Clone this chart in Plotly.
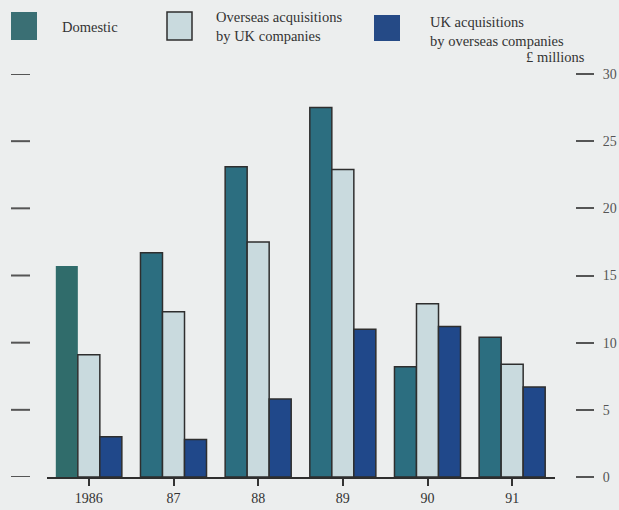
import plotly.graph_objects as go

# Values in £ millions
years = ["1986", "87", "88", "89", "90", "91"]
domestic = [15.7, 16.7, 23.1, 27.5, 8.2, 10.4]
overseas_by_uk = [9.1, 12.3, 17.5, 22.9, 12.9, 8.4]
uk_by_overseas = [3.0, 2.8, 5.8, 11.0, 11.2, 6.7]
y_ticks = [0, 5, 10, 15, 20, 25, 30]

W, H = 619, 510
TOP, BOTTOM = 74, 477          # pixel rows of the 30 and 0 levels
FONT = "Liberation Serif, Times New Roman, serif"
BG = "#ECEEEE"
TEAL = "#2C6E80"
TEAL_SOLID = "#306C6B"
PALE = "#C9DADE"
NAVY = "#20488A"
EDGE = "#2E2E2E"


def px(x):
    return x / W


def py(y):
    return (BOTTOM - y) / (BOTTOM - TOP)


fig = go.Figure()

fig.add_bar(
    x=years, y=domestic, name="Domestic",
    marker=dict(
        color=[TEAL_SOLID] + [TEAL] * (len(years) - 1),
        line=dict(color=EDGE, width=[0] + [1.5] * (len(years) - 1)),
    ),
)
fig.add_bar(
    x=years, y=overseas_by_uk, name="Overseas acquisitions by UK companies",
    marker=dict(color=PALE, line=dict(color=EDGE, width=1.5)),
)
fig.add_bar(
    x=years, y=uk_by_overseas, name="UK acquisitions by overseas companies",
    marker=dict(color=NAVY, line=dict(color=EDGE, width=1.5)),
)

shapes = []
# dashes down the left edge at each value level
for v in y_ticks:
    shapes.append(dict(type="line", xref="paper", yref="y",
                       x0=px(11), x1=px(30), y0=v, y1=v,
                       line=dict(color="#555555", width=2)))

# legend swatches
swatches = [
    (11, 12, 37, 40, "#3A6F74", None),
    (167, 12, 192, 40, PALE, EDGE),
    (374, 15, 400, 41, "#254A86", None),
]
for x0, y0, x1, y1, fill, edge in swatches:
    shapes.append(dict(type="rect", xref="paper", yref="paper",
                       x0=px(x0), x1=px(x1), y0=py(y1), y1=py(y0),
                       fillcolor=fill,
                       line=dict(color=edge or fill, width=1.5 if edge else 0)))

annotations = []
legend_text = [
    ("Domestic", 60, 27, "left"),
    ("Overseas acquisitions<br>by UK companies", 214, 27, "left"),
    ("UK acquisitions<br>by overseas companies", 428, 31, "left"),
    ("£ millions", 587, 57, "right"),
]
for text, x, y, align in legend_text:
    annotations.append(dict(text=text, xref="paper", yref="paper",
                            x=px(x), y=py(y), xanchor=align, yanchor="middle",
                            align="left", showarrow=False,
                            font=dict(family=FONT, size=14.5, color="#333333")))

fig.update_layout(
    width=W, height=H,
    margin=dict(l=0, r=0, t=TOP, b=H - BOTTOM),
    paper_bgcolor=BG, plot_bgcolor=BG,
    barmode="group", bargap=0.22, bargroupgap=0,
    showlegend=False,
    shapes=shapes, annotations=annotations,
    xaxis=dict(
        domain=[px(46.5), px(554.5)],
        type="category", range=[-0.5, 5.5],
        showline=True, linecolor="#2E2E2E", linewidth=1.5,
        ticks="outside", ticklen=7, tickwidth=1.5, tickcolor="#333333",
        tickfont=dict(family=FONT, size=14, color="#333333"),
        showgrid=False, zeroline=False,
    ),
    yaxis=dict(
        range=[0, 30], side="right", anchor="free", position=px(575),
        tickvals=y_ticks, ticks="outside", ticklen=18, tickwidth=2,
        tickcolor="#555555", ticklabelstandoff=6,
        tickfont=dict(family=FONT, size=14, color="#555555"),
        showline=False, showgrid=False, zeroline=False,
    ),
)

fig.write_html("out.html")
